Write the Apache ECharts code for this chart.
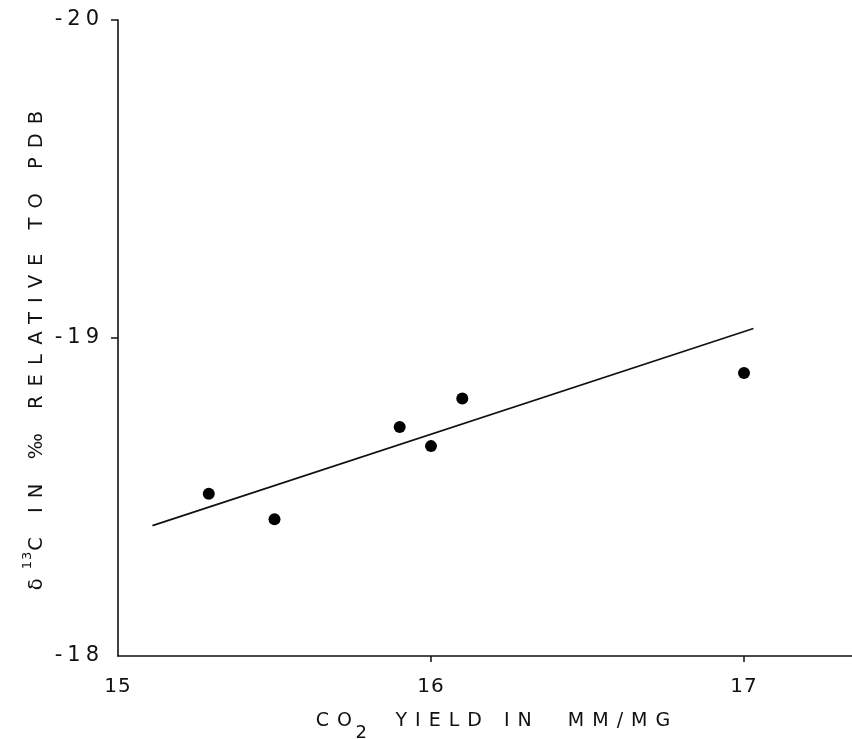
<!DOCTYPE html>
<html>
<head>
<meta charset="utf-8">
<script src="https://cdn.jsdelivr.net/npm/echarts@6/dist/echarts.min.js"></script>
<style>
html,body{margin:0;padding:0;background:#fff;overflow:hidden;}
#chart{width:852px;height:739px;}
</style>
</head>
<body>
<div id="chart"></div>
<script>
// Measured points: CO2 yield (mm/mg) vs delta13C (per mil, PDB)
const yieldX = [15.29, 15.50, 15.90, 16.00, 16.10, 17.00];
const delta13C = [-18.51, -18.43, -18.72, -18.66, -18.81, -18.89];
// Fitted regression line endpoints
const fitX = [15.11, 17.03];
const fitY = [-18.41, -19.03];
// Tick labels
const xTickLabels = [15, 16, 17];
const yTickLabels = [-20, -19, -18];

const ink = '#111';
const font = 'DejaVu Sans';

// Wide hand-lettered look: letter spacing chosen per font size
const spacingBySize = {'20': 1, '21': 5, '19': 8, '18': 0, '19.5': 9, '13': 1};
function spacingFor(fontStr) {
  const m = /(\d+(?:\.\d+)?)px/.exec(fontStr || '');
  if (!m) return 0;
  return spacingBySize[String(parseFloat(m[1]))] || 0;
}
const measureCtx = document.createElement('canvas').getContext('2d');
echarts.setPlatformAPI({
  measureText(text, fontStr) {
    measureCtx.font = fontStr || '12px sans-serif';
    const w = measureCtx.measureText(text).width;
    return {width: w + spacingFor(fontStr) * String(text).length};
  }
});
const origFill = CanvasRenderingContext2D.prototype.fillText;
CanvasRenderingContext2D.prototype.fillText = function (t, x, y, mw) {
  const ls = spacingFor(this.font);
  if (ls && 'letterSpacing' in this) {
    const prev = this.letterSpacing;
    this.letterSpacing = ls + 'px';
    origFill.call(this, t, x, y, mw);
    this.letterSpacing = prev;
  } else {
    origFill.call(this, t, x, y, mw);
  }
};

const chart = echarts.init(document.getElementById('chart'), null, {renderer: 'canvas'});
chart.setOption({
  backgroundColor: '#fff',
  animation: false,
  grid: {left: 118, right: 0, top: 20, bottom: 83, containLabel: false, outerBoundsMode: 'none'},
  xAxis: {
    type: 'value',
    min: 15,
    max: 17.345,
    interval: 1,
    splitLine: {show: false},
    axisLine: {lineStyle: {color: ink, width: 1.6}},
    axisTick: {show: true, length: 6, customValues: [16, 17], lineStyle: {color: ink, width: 1.5}},
    axisLabel: {
      customValues: xTickLabels,
      color: ink, fontFamily: font, fontSize: 20, margin: 20,
      formatter: v => String(v)
    },
    name: '{a|CO}{s|2}{b|YIELD IN  MM/MG}',
    nameLocation: 'middle',
    nameGap: 44,
    nameTextStyle: {
      rich: {
        a: {fontFamily: font, fontSize: 19, color: ink, padding: [0, 0, 0, 24]},
        s: {fontFamily: font, fontSize: 18, color: ink, padding: [24, 0, 0, 0], verticalAlign: 'bottom'},
        b: {fontFamily: font, fontSize: 19, color: ink, padding: [0, 0, 0, 24]}
      }
    }
  },
  yAxis: {
    type: 'value',
    inverse: true,
    min: -20,
    max: -18,
    interval: 1,
    splitLine: {show: false},
    axisLine: {lineStyle: {color: ink, width: 1.6}},
    axisTick: {show: true, length: 7, customValues: [-20, -19], lineStyle: {color: ink, width: 1.5}},
    axisLabel: {
      customValues: yTickLabels,
      color: ink, fontFamily: font, fontSize: 21, margin: 14,
      formatter: v => String(v)
    },
    name: '{a|δ}{p|13}{b|C IN ‰ RELATIVE TO PDB}',
    nameLocation: 'middle',
    nameGap: 65,
    nameMoveOverlap: false,
    nameTextStyle: {
      rich: {
        a: {fontFamily: font, fontSize: 19.5, color: ink},
        p: {fontFamily: font, fontSize: 13, color: ink, padding: [0, 0, 18, 0], verticalAlign: 'top'},
        b: {fontFamily: font, fontSize: 19.5, color: ink, padding: [0, 16, 0, 0]}
      }
    }
  },
  series: [
    {
      type: 'line',
      data: fitX.map((x, i) => [x, fitY[i]]),
      symbol: 'none',
      lineStyle: {color: ink, width: 1.7},
      z: 2
    },
    {
      type: 'scatter',
      data: yieldX.map((x, i) => [x, delta13C[i]]),
      symbol: 'circle',
      symbolSize: 12,
      itemStyle: {color: '#000', opacity: 1},
      z: 3
    }
  ]
});
</script>
</body>
</html>
